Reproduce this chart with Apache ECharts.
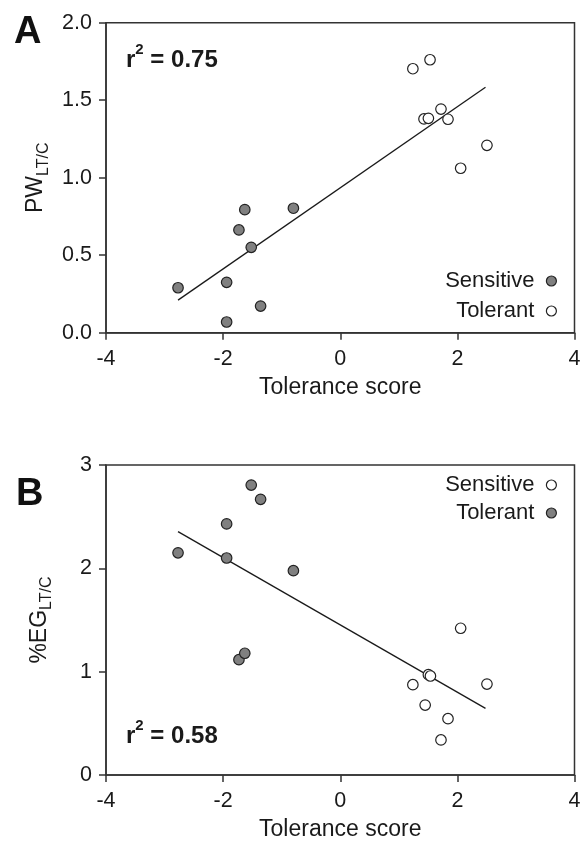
<!DOCTYPE html>
<html>
<head>
<meta charset="utf-8">
<script src="https://cdn.jsdelivr.net/npm/echarts@6/dist/echarts.min.js"></script>
<style>
html,body{margin:0;padding:0;background:#fff;}
#chart{width:584px;height:845px;}
</style>
</head>
<body>
<div id="chart"></div>
<script>
// ---------- Data ----------
// Panel A: PW_LT/C vs tolerance score
const sensScoreA = [-2.77, -1.94, -1.94, -1.73, -1.63, -1.52, -1.36, -0.80];
const sensPW     = [0.29, 0.325, 0.069, 0.663, 0.794, 0.551, 0.172, 0.803];
const tolScoreA  = [1.24, 1.533, 1.43, 1.505, 1.72, 1.84, 2.056, 2.505];
const tolPW      = [1.703, 1.761, 1.379, 1.383, 1.443, 1.377, 1.061, 1.209];
const fitA_x = [-2.77, 2.48];
const fitA_y = [0.21, 1.583];
const r2A = '0.75';

// Panel B: %EG_LT/C vs tolerance score
const sensScoreB = [-2.77, -1.94, -1.94, -1.73, -1.63, -1.52, -1.36, -0.80];
const sensEG     = [2.15, 2.10, 2.43, 1.116, 1.178, 2.806, 2.668, 1.977];
const tolScoreB  = [1.24, 1.45, 1.505, 1.54, 1.72, 1.84, 2.056, 2.505];
const tolEG      = [0.874, 0.677, 0.971, 0.958, 0.339, 0.545, 1.42, 0.88];
const fitB_x = [-2.77, 2.48];
const fitB_y = [2.355, 0.645];
const r2B = '0.58';

const xTicks = [-4, -2, 0, 2, 4];
const yTicksA = [0, 0.5, 1.0, 1.5, 2.0];
const yTicksB = [0, 1, 2, 3];

// ---------- Styles ----------
const FONT = 'Liberation Sans, Arial, Helvetica, sans-serif';
const TXT = '#1a1a1a';
const AX = '#333';
const FILL = '#808080';
const pair = (xs, ys) => xs.map((x, i) => [x, ys[i]]);

function xAxisCfg(gi) {
  return {
    type: 'value', gridIndex: gi, min: xTicks[0], max: xTicks[xTicks.length - 1], interval: 2,
    name: 'Tolerance score', nameLocation: 'middle', nameGap: 43,
    nameTextStyle: { fontFamily: FONT, fontSize: 23, color: TXT },
    axisLine: { show: true, onZero: false, lineStyle: { color: AX, width: 1.5 } },
    axisTick: { show: true, inside: false, length: 7, lineStyle: { color: AX, width: 1.5 } },
    axisLabel: { margin: 15, fontFamily: FONT, fontSize: 21.5, color: TXT, showMinLabel: true, showMaxLabel: true },
    splitLine: { show: false }
  };
}
function yAxisCfg(gi, ticks, fmt, nameMain) {
  return {
    type: 'value', gridIndex: gi, min: ticks[0], max: ticks[ticks.length - 1], interval: ticks[1] - ticks[0],
    name: '{a|' + nameMain + '}{b|LT/C}', nameLocation: 'middle', nameGap: 51, nameRotate: 90,
    nameTextStyle: {
      fontFamily: FONT, color: TXT,
      rich: {
        a: { fontFamily: FONT, fontSize: 23, color: TXT, lineHeight: 27, verticalAlign: 'top' },
        b: { fontFamily: FONT, fontSize: 16, color: TXT, lineHeight: 16, verticalAlign: 'bottom' }
      }
    },
    axisLine: { show: true, onZero: false, lineStyle: { color: AX, width: 1.5 } },
    axisTick: { show: true, inside: false, length: 7, lineStyle: { color: AX, width: 1.5 } },
    axisLabel: { margin: 14, fontFamily: FONT, fontSize: 21.5, color: TXT, formatter: fmt },
    splitLine: { show: false }
  };
}
const filledStyle = { color: FILL, borderColor: '#222', borderWidth: 1.2, opacity: 1 };
const openStyle = { color: '#fff', borderColor: '#222', borderWidth: 1.2, opacity: 1 };

function scatter(name, gi, data, style) {
  return {
    name: name, type: 'scatter', xAxisIndex: gi, yAxisIndex: gi, data: data,
    symbol: 'circle', symbolSize: 10.5, itemStyle: style, z: 3,
    emphasis: { disabled: true }
  };
}
function fitLine(gi, xs, ys) {
  return {
    type: 'line', xAxisIndex: gi, yAxisIndex: gi, data: pair(xs, ys),
    symbol: 'none', lineStyle: { color: '#1a1a1a', width: 1.3 }, z: 2, silent: true,
    emphasis: { disabled: true }
  };
}
function r2Text(left, top, val) {
  return {
    type: 'text', left: left, top: top,
    style: {
      text: '{r|r}{s|2}{r| = ' + val + '}',
      fill: TXT,
      rich: {
        r: { fontFamily: FONT, fontSize: 24, fontWeight: 'bold', fill: TXT, lineHeight: 30, verticalAlign: 'bottom' },
        s: { fontFamily: FONT, fontSize: 15, fontWeight: 'bold', fill: TXT, lineHeight: 15, verticalAlign: 'top' }
      }
    }
  };
}
function legendCfg(top, gap, sensStyle, tolStyle) {
  return {
    orient: 'vertical', align: 'right', right: 27, top: top, padding: 0, itemGap: gap,
    itemWidth: 10, itemHeight: 10, icon: 'circle',
    textStyle: { fontFamily: FONT, fontSize: 22, color: TXT, padding: [0, 7, 0, 0] },
    selectedMode: false,
    data: [
      { name: 'Sensitive', itemStyle: sensStyle },
      { name: 'Tolerant', itemStyle: tolStyle }
    ]
  };
}

const chart = echarts.init(document.getElementById('chart'), null, { renderer: 'canvas' });
chart.setOption({
  backgroundColor: '#fff',
  animation: false,
  grid: [
    { left: 106, right: 9.5, top: 22.7, height: 310, show: true, borderColor: AX, borderWidth: 1.5, backgroundColor: 'transparent', containLabel: false, outerBoundsMode: 'none' },
    { left: 106, right: 9.5, top: 465, height: 310, show: true, borderColor: AX, borderWidth: 1.5, backgroundColor: 'transparent', containLabel: false, outerBoundsMode: 'none' }
  ],
  xAxis: [xAxisCfg(0), xAxisCfg(1)],
  yAxis: [
    yAxisCfg(0, yTicksA, v => v.toFixed(1), 'PW'),
    yAxisCfg(1, yTicksB, v => String(v), '%EG')
  ],
  legend: [
    legendCfg(270, 8, filledStyle, openStyle),
    legendCfg(474, 6, openStyle, filledStyle)
  ],
  series: [
    fitLine(0, fitA_x, fitA_y),
    scatter('Sensitive', 0, pair(sensScoreA, sensPW), filledStyle),
    scatter('Tolerant', 0, pair(tolScoreA, tolPW), openStyle),
    fitLine(1, fitB_x, fitB_y),
    scatter('Sensitive', 1, pair(sensScoreB, sensEG), filledStyle),
    scatter('Tolerant', 1, pair(tolScoreB, tolEG), openStyle)
  ],
  graphic: [
    { type: 'text', left: 14, top: 14, style: { text: 'A', fontFamily: FONT, fontSize: 38, fontWeight: 'bold', fill: '#111' } },
    { type: 'text', left: 16, top: 476, style: { text: 'B', fontFamily: FONT, fontSize: 38, fontWeight: 'bold', fill: '#111' } },
    r2Text(126, 42, r2A),
    r2Text(126, 718, r2B)
  ]
});
</script>
</body>
</html>
